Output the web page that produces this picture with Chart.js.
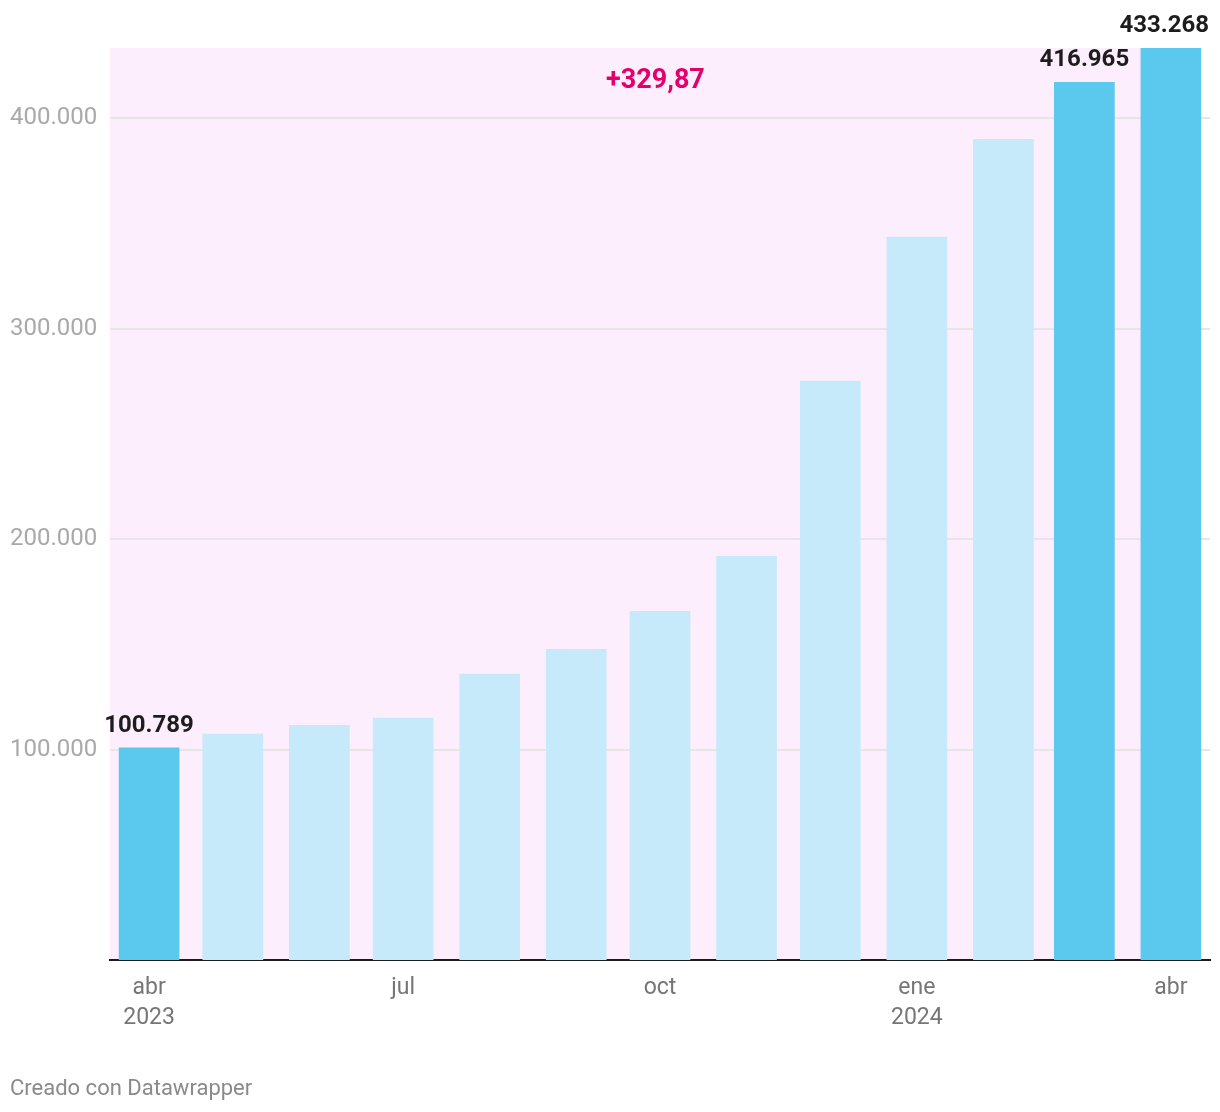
<!DOCTYPE html>
<html>
<head>
<meta charset="utf-8">
<script src="https://cdn.jsdelivr.net/npm/chart.js@4"></script>
<style>
  html, body { margin: 0; padding: 0; background: #fff; }
  #wrap { position: relative; width: 1220px; height: 1112px; }
  #footer {
    position: absolute; left: 10px; top: 1076px;
    font: 22px Roboto, sans-serif; line-height: 24px; color: #8a8a8a;
  }
</style>
</head>
<body>
<div id="wrap">
  <canvas id="chart" width="1220" height="1112"></canvas>
  <div id="footer">Creado con Datawrapper</div>
</div>
<script>
// monthly values, abr 2023 -> abr 2024
const months = ['2023-04-01','2023-05-01','2023-06-01','2023-07-01','2023-08-01','2023-09-01',
  '2023-10-01','2023-11-01','2023-12-01','2024-01-01','2024-02-01','2024-03-01','2024-04-01'];
const values = [100789, 107300, 111500, 114900, 135800, 147600, 165700, 191800,
  275000, 343400, 389900, 416965, 433268];
const highlighted = ['2023-04-01', '2024-03-01', '2024-04-01'];

const tickDates = ['2023-04-01','2023-07-01','2023-10-01','2024-01-01','2024-04-01'];
const tickLabels = [['abr','2023'], 'jul', 'oct', ['ene','2024'], 'abr'];
const yTicks = [100000, 200000, 300000, 400000];
const changeLabel = '+329,87';

const start = Date.parse(months[0] + 'T00:00:00Z');
const dayOf = d => Math.round((Date.parse(d + 'T00:00:00Z') - start) / 864e5);
const fmt = v => String(v).replace(/\B(?=(\d{3})+(?!\d))/g, '.');

const points = months.map((m, i) => ({ x: dayOf(m), y: values[i] }));
const tickDays = tickDates.map(dayOf);

const BLUE = '#5bc9ee', LIGHT = '#c6eaf9', PINK = '#fdeefd';

const bgPlugin = {
  id: 'band',
  beforeDraw(chart) {
    const { ctx, chartArea } = chart;
    const bars = chart.getDatasetMeta(0).data;
    const last = bars[bars.length - 1];
    const right = last.x + last.width / 2;
    ctx.save();
    ctx.fillStyle = PINK;
    ctx.fillRect(chartArea.left, chartArea.top, right - chartArea.left, chartArea.bottom - chartArea.top);
    ctx.restore();
  },
  afterDatasetsDraw(chart) {
    const { ctx, chartArea } = chart;
    const bars = chart.getDatasetMeta(0).data;
    const last = bars[bars.length - 1];
    const right = last.x + last.width / 2;
    ctx.save();
    ctx.textBaseline = 'middle';
    ctx.textAlign = 'center';
    // value labels on highlighted bars
    ctx.font = 'bold 24px Roboto, sans-serif';
    ctx.fillStyle = '#1d1d1d';
    months.forEach((m, i) => {
      if (!highlighted.includes(m)) return;
      const bar = bars[i];
      const txt = fmt(values[i]);
      const w = ctx.measureText(txt).width;
      const x = Math.min(bar.x, 1209 - w / 2);
      ctx.fillText(txt, x, bar.y - 22);
    });
    // change annotation
    ctx.font = 'bold 27px Roboto, sans-serif';
    ctx.fillStyle = '#e3006d';
    ctx.fillText(changeLabel, (chartArea.left + right) / 2, chartArea.top + 33);
    ctx.restore();
  }
};

new Chart(document.getElementById('chart'), {
  type: 'bar',
  data: {
    datasets: [{
      data: points,
      backgroundColor: ctx => highlighted.includes(months[ctx.dataIndex]) ? BLUE : LIGHT,
      barThickness: 60,
      borderWidth: 0
    }]
  },
  options: {
    responsive: false,
    animation: false,
    layout: { padding: { left: 10, right: 10, top: 48, bottom: 0 } },
    plugins: { legend: { display: false }, tooltip: { enabled: false } },
    scales: {
      x: {
        type: 'linear',
        min: -14,
        max: 380,
        offset: false,
        grid: { display: false, offset: false },
        border: { display: true, color: '#1b1b1b', width: 2 },
        afterBuildTicks: s => { s.ticks = tickDays.map(v => ({ value: v })); },
        ticks: {
          autoSkip: false,
          maxRotation: 0,
          padding: 5,
          color: '#767676',
          font: { family: 'Roboto', size: 23, lineHeight: 1.3 },
          callback: v => tickLabels[tickDays.indexOf(v)]
        },
        afterFit: s => { s.height = 152; s.paddingLeft = 0; s.paddingRight = 0; }
      },
      y: {
        min: 0,
        max: values[values.length - 1],
        grid: { color: '#e8e4e8', lineWidth: 2, drawTicks: false },
        border: { display: false },
        afterBuildTicks: s => { s.ticks = yTicks.map(v => ({ value: v })); },
        ticks: {
          crossAlign: 'far',
          padding: 0,
          color: '#a9a9a9',
          font: { family: 'Roboto', size: 24 },
          callback: v => fmt(v)
        },
        afterFit: s => { s.width = 100; s.paddingTop = 0; s.paddingBottom = 0; }
      }
    }
  },
  plugins: [bgPlugin]
});
</script>
</body>
</html>
